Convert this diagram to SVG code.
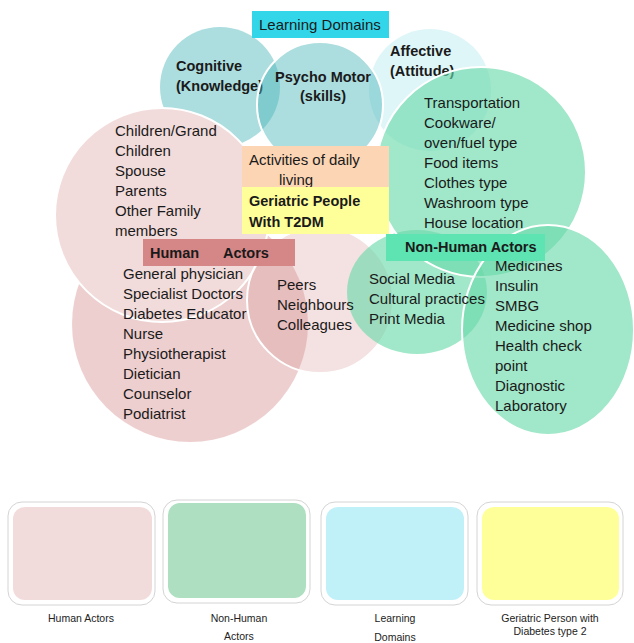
<svg xmlns="http://www.w3.org/2000/svg" width="634" height="643" viewBox="0 0 634 643">
<style>
text{font-family:"Liberation Sans",Arial,sans-serif;fill:#1a1a1a}
.t{font-size:15px}
.b{font-size:14.5px;font-weight:bold}
.lg{font-size:10.5px;text-anchor:middle;fill:#222}
.teal{fill:#4fb7bb;fill-opacity:0.47}
.grn{fill:#6ad9a9;fill-opacity:0.63}
.ws{stroke:#fff;stroke-width:2}
.frame{fill:#fff;stroke:#d4d4d4;stroke-width:1}
</style>
<rect width="634" height="643" fill="#fff"/>
<g id="learning-domains">
  <g id="affective"><circle cx="430" cy="90" r="61" fill="#dff6f9"/>
    <text class="b" x="390" y="56">Affective</text><text class="b" x="390" y="76">(Attitude)</text></g>
  <g id="cognitive"><circle cx="220" cy="87" r="60" class="teal"/>
    <text class="b" x="176" y="71">Cognitive</text><text class="b" x="176" y="91">(Knowledge)</text></g>
  <g id="psychomotor"><circle cx="320" cy="105" r="63" class="teal ws"/>
    <text class="b" x="323" y="82" text-anchor="middle">Psycho Motor</text><text class="b" x="323" y="101" text-anchor="middle">(skills)</text></g>
</g>
<g id="human-actors">
  <g id="professionals"><circle cx="190" cy="324" r="118" fill="#d99594" fill-opacity="0.45"/></g>
  <g id="family"><circle cx="162" cy="215" r="107" fill="#f2dcdb" class="ws"/></g>
  <g id="peers"><circle cx="320" cy="300" r="73" fill="#d99594" fill-opacity="0.28" class="ws"/></g>
</g>
<g id="non-human-actors">
  <g id="media"><ellipse cx="417" cy="292" rx="70" ry="62" class="grn"/></g>
  <g id="environment"><circle cx="481" cy="172" r="105" class="grn ws"/></g>
  <g id="medical"><ellipse cx="548" cy="330" rx="86" ry="105" class="grn ws"/></g>
</g>
<g id="texts">
  <text class="t" x="115"><tspan x="115" y="136">Children/Grand</tspan><tspan x="115" y="156">Children</tspan><tspan x="115" y="176">Spouse</tspan><tspan x="115" y="196">Parents</tspan><tspan x="115" y="216">Other Family</tspan><tspan x="115" y="236">members</tspan></text>
  <text class="t"><tspan x="123" y="279">General physician</tspan><tspan x="123" y="299">Specialist Doctors</tspan><tspan x="123" y="319">Diabetes Educator</tspan><tspan x="123" y="339">Nurse</tspan><tspan x="123" y="359">Physiotherapist</tspan><tspan x="123" y="379">Dietician</tspan><tspan x="123" y="399">Counselor</tspan><tspan x="123" y="419">Podiatrist</tspan></text>
  <text class="t"><tspan x="277" y="290">Peers</tspan><tspan x="277" y="310">Neighbours</tspan><tspan x="277" y="330">Colleagues</tspan></text>
  <text class="t"><tspan x="424" y="108">Transportation</tspan><tspan x="424" y="128">Cookware/</tspan><tspan x="424" y="148">oven/fuel type</tspan><tspan x="424" y="168">Food items</tspan><tspan x="424" y="188">Clothes type</tspan><tspan x="424" y="208">Washroom type</tspan><tspan x="424" y="228">House location</tspan></text>
  <text class="t"><tspan x="369" y="284">Social Media</tspan><tspan x="369" y="304">Cultural practices</tspan><tspan x="369" y="324">Print Media</tspan></text>
  <text class="t"><tspan x="495" y="271">Medicines</tspan><tspan x="495" y="291">Insulin</tspan><tspan x="495" y="311">SMBG</tspan><tspan x="495" y="331">Medicine shop</tspan><tspan x="495" y="351">Health check</tspan><tspan x="495" y="371">point</tspan><tspan x="495" y="391">Diagnostic</tspan><tspan x="495" y="411">Laboratory</tspan></text>
</g>
<g id="labels">
  <g id="lbl-learning"><rect x="252" y="11" width="137" height="27" fill="#33d6e8"/><text class="t" x="259" y="30">Learning Domains</text></g>
  <g id="lbl-adl"><rect x="242" y="146" width="147" height="41" fill="#fcd5b5"/><text class="t"><tspan x="249" y="165">Activities of daily</tspan><tspan x="279" y="185">living</tspan></text></g>
  <g id="lbl-geriatric"><rect x="242" y="187" width="147" height="47" fill="#ffff99"/><text class="b"><tspan x="249" y="206">Geriatric People</tspan><tspan x="249" y="227">With T2DM</tspan></text></g>
  <g id="lbl-human"><rect x="143" y="239" width="152" height="27" fill="#d58787"/><text class="b" x="150" y="258">Human</text><text class="b" x="223" y="258">Actors</text></g>
  <g id="lbl-nonhuman"><rect x="386" y="234" width="159" height="27" fill="#5ee3b2"/><text class="b" x="405" y="252">Non-Human Actors</text></g>
</g>
<g id="legend">
  <g id="leg-human"><rect x="8" y="502" width="147" height="103" rx="14" class="frame"/><rect x="13" y="507" width="139" height="93" rx="12" fill="#f2dcdb"/><text class="lg" x="81" y="622">Human Actors</text></g>
  <g id="leg-nonhuman"><rect x="163" y="500" width="147" height="103" rx="14" class="frame"/><rect x="168" y="503" width="138" height="95" rx="12" fill="#addfc0"/><text class="lg" x="239" y="622">Non-Human</text><text class="lg" x="239" y="640">Actors</text></g>
  <g id="leg-learning"><rect x="321" y="502" width="147" height="103" rx="14" class="frame"/><rect x="326" y="507" width="138" height="93" rx="12" fill="#c0f0f8"/><text class="lg" x="395" y="622">Learning</text><text class="lg" x="395" y="641">Domains</text></g>
  <g id="leg-geriatric"><rect x="477" y="502" width="146" height="103" rx="14" class="frame"/><rect x="482" y="507" width="137" height="93" rx="12" fill="#ffff99"/><text class="lg" x="550" y="622">Geriatric Person with</text><text class="lg" x="550" y="635">Diabetes type 2</text></g>
</g>
<g id="connectors"/>
</svg>
